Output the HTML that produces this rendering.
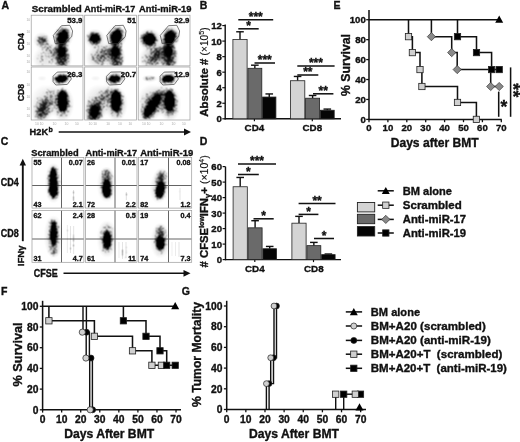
<!DOCTYPE html><html><head><meta charset="utf-8"><style>html,body{margin:0;padding:0;background:#fff;}svg{display:block;will-change:transform;}text{font-family:"Liberation Sans",sans-serif;}</style></head><body>
<svg width="520" height="442" viewBox="0 0 520 442">
<defs>
<filter id="b1_2" x="-100%" y="-100%" width="300%" height="300%"><feGaussianBlur stdDeviation="1.2"/></filter><filter id="b1_3" x="-100%" y="-100%" width="300%" height="300%"><feGaussianBlur stdDeviation="1.3"/></filter><filter id="b1_5" x="-100%" y="-100%" width="300%" height="300%"><feGaussianBlur stdDeviation="1.5"/></filter><filter id="b1_6" x="-100%" y="-100%" width="300%" height="300%"><feGaussianBlur stdDeviation="1.6"/></filter><filter id="b2" x="-100%" y="-100%" width="300%" height="300%"><feGaussianBlur stdDeviation="2"/></filter><filter id="b2_5" x="-100%" y="-100%" width="300%" height="300%"><feGaussianBlur stdDeviation="2.5"/></filter><filter id="b3" x="-100%" y="-100%" width="300%" height="300%"><feGaussianBlur stdDeviation="3"/></filter>
</defs>
<rect width="520" height="442" fill="#fff"/>
<text x="1.60" y="8.90" font-size="10.5" text-anchor="start" font-weight="bold" fill="#111" stroke="#111" stroke-width="0.35" >A</text>
<text x="31.80" y="12.30" font-size="9.9" text-anchor="start" font-weight="bold" fill="#111" stroke="#111" stroke-width="0.35" textLength="50" lengthAdjust="spacingAndGlyphs" >Scrambled</text>
<text x="84.30" y="12.30" font-size="9.9" text-anchor="start" font-weight="bold" fill="#111" stroke="#111" stroke-width="0.35" textLength="50.9" lengthAdjust="spacingAndGlyphs" >Anti-miR-17</text>
<text x="139.00" y="12.30" font-size="9.9" text-anchor="start" font-weight="bold" fill="#111" stroke="#111" stroke-width="0.35" textLength="52.5" lengthAdjust="spacingAndGlyphs" >Anti-miR-19</text>
<defs><filter id="spk" filterUnits="userSpaceOnUse" x="0" y="0" width="520" height="442" color-interpolation-filters="sRGB"><feTurbulence type="fractalNoise" baseFrequency="2.2" numOctaves="1" seed="3" result="n"/><feColorMatrix in="n" type="matrix" values="0 0 0 0 0 0 0 0 0 0 0 0 0 0 0 1 0 0 0 0" result="na"/><feComponentTransfer in="na" result="nu"><feFuncA type="table" tableValues="0.080 0.080 0.080 0.080 0.080 0.080 0.080 0.080 0.080 0.081 0.083 0.090 0.103 0.123 0.154 0.187 0.235 0.282 0.345 0.429 0.493 0.575 0.660 0.720 0.773 0.812 0.844 0.874 0.894 0.908 0.916 0.918 0.920 0.920 0.920 0.920 0.920 0.920 0.920 0.920 0.920"/></feComponentTransfer><feComponentTransfer in="SourceAlpha" result="sa"><feFuncA type="linear" slope="1.3" intercept="-0.04"/></feComponentTransfer><feComposite in="sa" in2="nu" operator="arithmetic" k1="0" k2="12.5" k3="12.5" k4="-12.5" result="sp"/><feConvolveMatrix in="sp" order="3" kernelMatrix="1 2 1 2 4 2 1 2 1" divisor="16" edgeMode="none" result="spb"/><feComposite in="sa" in2="spb" operator="arithmetic" k1="0" k2="0.45" k3="0.55" k4="0" result="mx"/><feFlood flood-color="#000"/><feComposite in2="mx" operator="in"/></filter></defs>
<defs>
<clipPath id="cA00"><rect x="31.2" y="15.2" width="51.8" height="50.7"/></clipPath>
<clipPath id="cA01"><rect x="31.2" y="67.0" width="51.8" height="53.0"/></clipPath>
<clipPath id="cA10"><rect x="84.7" y="15.2" width="51.89999999999999" height="50.7"/></clipPath>
<clipPath id="cA11"><rect x="84.7" y="67.0" width="51.89999999999999" height="53.0"/></clipPath>
<clipPath id="cA20"><rect x="138.2" y="15.2" width="51.80000000000001" height="50.7"/></clipPath>
<clipPath id="cA21"><rect x="138.2" y="67.0" width="51.80000000000001" height="53.0"/></clipPath>
</defs>
<g clip-path="url(#cA00)"><g filter="url(#spk)">
<ellipse cx="47.00" cy="57.00" rx="13" ry="10" fill="#000" opacity="0.2" filter="url(#b3)" transform="rotate(-30 47.00 57.00)"/>
<ellipse cx="51.00" cy="50.00" rx="8" ry="3.5" fill="#000" opacity="0.25" filter="url(#b2_5)" transform="rotate(40 51.00 50.00)"/>
<ellipse cx="62.30" cy="58.00" rx="6.2" ry="10" fill="#000" opacity="0.7" filter="url(#b2_5)"/>
<ellipse cx="61.80" cy="50.00" rx="4.8" ry="6" fill="#000" opacity="0.9" filter="url(#b2)"/>
<ellipse cx="42.00" cy="40.50" rx="6.5" ry="6" fill="#000" opacity="0.35" filter="url(#b2_5)"/>
<ellipse cx="42.00" cy="40.50" rx="3.5" ry="3" fill="#000" opacity="0.5" filter="url(#b1_5)"/>
<ellipse cx="62.80" cy="37.00" rx="7.5" ry="9.5" fill="#000" opacity="0.45" filter="url(#b2_5)" transform="rotate(20 62.80 37.00)"/>
<ellipse cx="62.80" cy="37.00" rx="5" ry="7.5" fill="#000" opacity="1.0" filter="url(#b1_5)" transform="rotate(20 62.80 37.00)"/>
</g>
<polyline points="53.30,35.40 61.50,25.70 69.80,25.30 72.60,31.00 71.70,36.70 64.70,43.60 55.20,43.60 53.30,35.40" fill="none" stroke="#333" stroke-width="0.649" stroke-linejoin="miter"/>
</g>
<rect x="31.20" y="15.20" width="51.80" height="50.70" fill="none" stroke="#9a9a9a" stroke-width="0.7"/>
<g clip-path="url(#cA01)"><g filter="url(#spk)">
<ellipse cx="46.00" cy="100.00" rx="14" ry="14" fill="#000" opacity="0.12" filter="url(#b3)" transform="rotate(30 46.00 100.00)"/>
<ellipse cx="43.00" cy="109.00" rx="7.5" ry="12.5" fill="#000" opacity="0.33" filter="url(#b3)" transform="rotate(25 43.00 109.00)"/>
<ellipse cx="43.00" cy="110.00" rx="4.8" ry="9.5" fill="#000" opacity="0.45" filter="url(#b2)" transform="rotate(25 43.00 110.00)"/>
<ellipse cx="51.00" cy="96.00" rx="3.5" ry="8" fill="#000" opacity="0.28" filter="url(#b3)" transform="rotate(40 51.00 96.00)"/>
<ellipse cx="62.80" cy="104.00" rx="7.5" ry="14" fill="#000" opacity="0.42" filter="url(#b3)"/>
<ellipse cx="62.60" cy="101.00" rx="5" ry="11" fill="#000" opacity="1.0" filter="url(#b1_5)"/>
<ellipse cx="61.20" cy="78.80" rx="8.5" ry="5" fill="#000" opacity="0.4" filter="url(#b2_5)" transform="rotate(-8 61.20 78.80)"/>
<ellipse cx="61.20" cy="78.80" rx="6" ry="3.3" fill="#000" opacity="1.0" filter="url(#b1_3)" transform="rotate(-8 61.20 78.80)"/>
<ellipse cx="42.00" cy="78.20" rx="4.5" ry="1.8" fill="#000" opacity="0.15" filter="url(#b1_5)"/>
</g>
<polyline points="53.10,76.20 57.20,72.10 68.00,71.90 71.40,78.90 67.30,84.40 55.80,85.00 53.10,81.60 53.10,76.20" fill="none" stroke="#333" stroke-width="0.649" stroke-linejoin="miter"/>
</g>
<rect x="31.20" y="67.00" width="51.80" height="53.00" fill="none" stroke="#9a9a9a" stroke-width="0.7"/>
<g clip-path="url(#cA10)"><g filter="url(#spk)">
<ellipse cx="100.50" cy="56.00" rx="13" ry="10" fill="#000" opacity="0.26" filter="url(#b3)" transform="rotate(-30 100.50 56.00)"/>
<ellipse cx="103.50" cy="55.00" rx="10" ry="4" fill="#000" opacity="0.4" filter="url(#b2_5)" transform="rotate(-50 103.50 55.00)"/>
<ellipse cx="115.80" cy="58.00" rx="6.2" ry="10" fill="#000" opacity="0.7" filter="url(#b2_5)"/>
<ellipse cx="115.30" cy="50.00" rx="4.8" ry="6" fill="#000" opacity="0.9" filter="url(#b2)"/>
<ellipse cx="94.80" cy="38.60" rx="7.5" ry="7" fill="#000" opacity="0.45" filter="url(#b2_5)"/>
<ellipse cx="94.80" cy="38.60" rx="5" ry="4.6" fill="#000" opacity="1.0" filter="url(#b1_5)"/>
<ellipse cx="116.30" cy="37.00" rx="7.5" ry="9.5" fill="#000" opacity="0.45" filter="url(#b2_5)" transform="rotate(20 116.30 37.00)"/>
<ellipse cx="116.30" cy="37.00" rx="5" ry="7.5" fill="#000" opacity="1.0" filter="url(#b1_5)" transform="rotate(20 116.30 37.00)"/>
</g>
<polyline points="106.80,35.40 115.00,25.70 123.30,25.30 126.10,31.00 125.20,36.70 118.20,43.60 108.70,43.60 106.80,35.40" fill="none" stroke="#333" stroke-width="0.649" stroke-linejoin="miter"/>
</g>
<rect x="84.70" y="15.20" width="51.90" height="50.70" fill="none" stroke="#9a9a9a" stroke-width="0.7"/>
<g clip-path="url(#cA11)"><g filter="url(#spk)">
<ellipse cx="99.50" cy="100.00" rx="14" ry="14" fill="#000" opacity="0.14" filter="url(#b3)" transform="rotate(30 99.50 100.00)"/>
<ellipse cx="105.50" cy="96.00" rx="4" ry="10" fill="#000" opacity="0.45" filter="url(#b3)" transform="rotate(55 105.50 96.00)"/>
<ellipse cx="94.70" cy="111.00" rx="7.5" ry="11.5" fill="#000" opacity="0.55" filter="url(#b2_5)" transform="rotate(10 94.70 111.00)"/>
<ellipse cx="94.70" cy="112.00" rx="4" ry="7" fill="#000" opacity="1.0" filter="url(#b2)" transform="rotate(10 94.70 112.00)"/>
<ellipse cx="116.30" cy="104.00" rx="7.5" ry="14" fill="#000" opacity="0.42" filter="url(#b3)"/>
<ellipse cx="116.10" cy="101.00" rx="5" ry="11" fill="#000" opacity="1.0" filter="url(#b1_5)"/>
<ellipse cx="114.70" cy="78.80" rx="8.5" ry="5" fill="#000" opacity="0.4" filter="url(#b2_5)" transform="rotate(-8 114.70 78.80)"/>
<ellipse cx="114.70" cy="78.80" rx="6" ry="3.3" fill="#000" opacity="1.0" filter="url(#b1_3)" transform="rotate(-8 114.70 78.80)"/>
<ellipse cx="95.50" cy="78.20" rx="4.5" ry="1.8" fill="#000" opacity="0.15" filter="url(#b1_5)"/>
</g>
<polyline points="106.60,76.20 110.70,72.10 121.50,71.90 124.90,78.90 120.80,84.40 109.30,85.00 106.60,81.60 106.60,76.20" fill="none" stroke="#333" stroke-width="0.649" stroke-linejoin="miter"/>
</g>
<rect x="84.70" y="67.00" width="51.90" height="53.00" fill="none" stroke="#9a9a9a" stroke-width="0.7"/>
<g clip-path="url(#cA20)"><g filter="url(#spk)">
<ellipse cx="154.00" cy="57.00" rx="13" ry="10" fill="#000" opacity="0.3" filter="url(#b3)" transform="rotate(-30 154.00 57.00)"/>
<ellipse cx="157.00" cy="55.00" rx="11" ry="4.5" fill="#000" opacity="0.55" filter="url(#b2_5)" transform="rotate(-50 157.00 55.00)"/>
<ellipse cx="169.30" cy="58.00" rx="6.2" ry="10" fill="#000" opacity="0.7" filter="url(#b2_5)"/>
<ellipse cx="168.80" cy="50.00" rx="4.8" ry="6" fill="#000" opacity="0.9" filter="url(#b2)"/>
<ellipse cx="149.30" cy="39.20" rx="8.5" ry="8" fill="#000" opacity="0.5" filter="url(#b2_5)"/>
<ellipse cx="149.30" cy="39.20" rx="6.2" ry="5.6" fill="#000" opacity="1.0" filter="url(#b1_5)"/>
<ellipse cx="169.80" cy="37.50" rx="7.5" ry="9.5" fill="#000" opacity="0.45" filter="url(#b2_5)" transform="rotate(20 169.80 37.50)"/>
<ellipse cx="169.80" cy="37.50" rx="5" ry="7.5" fill="#000" opacity="1.0" filter="url(#b1_5)" transform="rotate(20 169.80 37.50)"/>
</g>
<polyline points="160.30,35.40 168.50,25.70 176.80,25.30 179.60,31.00 178.70,36.70 171.70,43.60 162.20,43.60 160.30,35.40" fill="none" stroke="#333" stroke-width="0.649" stroke-linejoin="miter"/>
</g>
<rect x="138.20" y="15.20" width="51.80" height="50.70" fill="none" stroke="#9a9a9a" stroke-width="0.7"/>
<g clip-path="url(#cA21)"><g filter="url(#spk)">
<ellipse cx="153.00" cy="100.00" rx="14" ry="14" fill="#000" opacity="0.16" filter="url(#b3)" transform="rotate(30 153.00 100.00)"/>
<ellipse cx="151.80" cy="106.00" rx="7.5" ry="15.5" fill="#000" opacity="0.45" filter="url(#b3)" transform="rotate(33 151.80 106.00)"/>
<ellipse cx="151.80" cy="106.50" rx="4.6" ry="13.5" fill="#000" opacity="1.0" filter="url(#b1_6)" transform="rotate(33 151.80 106.50)"/>
<ellipse cx="161.00" cy="95.00" rx="4" ry="7" fill="#000" opacity="0.5" filter="url(#b2_5)" transform="rotate(45 161.00 95.00)"/>
<ellipse cx="169.80" cy="104.00" rx="7.5" ry="14" fill="#000" opacity="0.42" filter="url(#b3)"/>
<ellipse cx="169.60" cy="101.00" rx="5" ry="11" fill="#000" opacity="1.0" filter="url(#b1_5)"/>
<ellipse cx="168.20" cy="78.80" rx="8.5" ry="5" fill="#000" opacity="0.4" filter="url(#b2_5)" transform="rotate(-8 168.20 78.80)"/>
<ellipse cx="168.20" cy="78.80" rx="6" ry="3.3" fill="#000" opacity="1.0" filter="url(#b1_3)" transform="rotate(-8 168.20 78.80)"/>
<ellipse cx="149.50" cy="78.40" rx="6.5" ry="2.0" fill="#000" opacity="0.38" filter="url(#b1_5)"/>
</g>
<polyline points="160.10,76.20 164.20,72.10 175.00,71.90 178.40,78.90 174.30,84.40 162.80,85.00 160.10,81.60 160.10,76.20" fill="none" stroke="#333" stroke-width="0.649" stroke-linejoin="miter"/>
</g>
<rect x="138.20" y="67.00" width="51.80" height="53.00" fill="none" stroke="#9a9a9a" stroke-width="0.7"/>
<text x="82.40" y="22.50" font-size="7.8" text-anchor="end" font-weight="bold" fill="#111" stroke="#111" stroke-width="0.35" >53.9</text>
<text x="82.40" y="76.60" font-size="7.8" text-anchor="end" font-weight="bold" fill="#111" stroke="#111" stroke-width="0.35" >26.3</text>
<text x="136.00" y="22.50" font-size="7.8" text-anchor="end" font-weight="bold" fill="#111" stroke="#111" stroke-width="0.35" >51</text>
<text x="136.00" y="76.60" font-size="7.8" text-anchor="end" font-weight="bold" fill="#111" stroke="#111" stroke-width="0.35" >20.7</text>
<text x="189.40" y="22.50" font-size="7.8" text-anchor="end" font-weight="bold" fill="#111" stroke="#111" stroke-width="0.35" >32.9</text>
<text x="189.40" y="76.60" font-size="7.8" text-anchor="end" font-weight="bold" fill="#111" stroke="#111" stroke-width="0.35" >12.9</text>
<text x="24.30" y="50.50" font-size="9.0" text-anchor="start" font-weight="bold" fill="#111" stroke="#111" stroke-width="0.35" textLength="17.3" lengthAdjust="spacingAndGlyphs" transform="rotate(-90 24.3 50.5)">CD4</text>
<text x="24.30" y="101.30" font-size="9.0" text-anchor="start" font-weight="bold" fill="#111" stroke="#111" stroke-width="0.35" textLength="17.3" lengthAdjust="spacingAndGlyphs" transform="rotate(-90 24.3 101.3)">CD8</text>
<text x="29.60" y="134.60" font-size="9.6" text-anchor="start" font-weight="bold" fill="#111" stroke="#111" stroke-width="0.35" textLength="18.5" lengthAdjust="spacingAndGlyphs" >H2K</text>
<text x="48.60" y="131.60" font-size="7" text-anchor="start" font-weight="bold" fill="#111" stroke="#111" stroke-width="0.35" >b</text>
<text x="36.90" y="124.8" font-size="3.4" font-weight="normal" fill="#aaa" text-anchor="middle">10</text>
<text x="41.56" y="124.8" font-size="3.4" font-weight="normal" fill="#aaa" text-anchor="middle">10</text>
<text x="54.51" y="124.8" font-size="3.4" font-weight="normal" fill="#aaa" text-anchor="middle">10</text>
<text x="66.42" y="124.8" font-size="3.4" font-weight="normal" fill="#aaa" text-anchor="middle">10</text>
<text x="76.78" y="124.8" font-size="3.4" font-weight="normal" fill="#aaa" text-anchor="middle">10</text>
<text x="90.41" y="124.8" font-size="3.4" font-weight="normal" fill="#aaa" text-anchor="middle">10</text>
<text x="95.08" y="124.8" font-size="3.4" font-weight="normal" fill="#aaa" text-anchor="middle">10</text>
<text x="108.06" y="124.8" font-size="3.4" font-weight="normal" fill="#aaa" text-anchor="middle">10</text>
<text x="119.99" y="124.8" font-size="3.4" font-weight="normal" fill="#aaa" text-anchor="middle">10</text>
<text x="130.37" y="124.8" font-size="3.4" font-weight="normal" fill="#aaa" text-anchor="middle">10</text>
<text x="143.90" y="124.8" font-size="3.4" font-weight="normal" fill="#aaa" text-anchor="middle">10</text>
<text x="148.56" y="124.8" font-size="3.4" font-weight="normal" fill="#aaa" text-anchor="middle">10</text>
<text x="161.51" y="124.8" font-size="3.4" font-weight="normal" fill="#aaa" text-anchor="middle">10</text>
<text x="173.42" y="124.8" font-size="3.4" font-weight="normal" fill="#aaa" text-anchor="middle">10</text>
<text x="183.78" y="124.8" font-size="3.4" font-weight="normal" fill="#aaa" text-anchor="middle">10</text>
<text x="28.3" y="21.28" font-size="3.4" font-weight="normal" fill="#aaa" text-anchor="middle">10</text>
<text x="28.3" y="32.95" font-size="3.4" font-weight="normal" fill="#aaa" text-anchor="middle">10</text>
<text x="28.3" y="44.61" font-size="3.4" font-weight="normal" fill="#aaa" text-anchor="middle">10</text>
<text x="28.3" y="56.77" font-size="3.4" font-weight="normal" fill="#aaa" text-anchor="middle">10</text>
<text x="28.3" y="63.36" font-size="3.4" font-weight="normal" fill="#aaa" text-anchor="middle">10</text>
<text x="28.3" y="73.36" font-size="3.4" font-weight="normal" fill="#aaa" text-anchor="middle">10</text>
<text x="28.3" y="85.55" font-size="3.4" font-weight="normal" fill="#aaa" text-anchor="middle">10</text>
<text x="28.3" y="97.74" font-size="3.4" font-weight="normal" fill="#aaa" text-anchor="middle">10</text>
<text x="28.3" y="110.46" font-size="3.4" font-weight="normal" fill="#aaa" text-anchor="middle">10</text>
<text x="28.3" y="117.35" font-size="3.4" font-weight="normal" fill="#aaa" text-anchor="middle">10</text>
<line x1="58.70" y1="132.00" x2="187.00" y2="132.00" stroke="#111" stroke-width="1.534"/>
<polygon points="191,132 184,128.6 184,135.4" fill="#111"/>
<text x="199.80" y="9.30" font-size="10.5" text-anchor="start" font-weight="bold" fill="#111" stroke="#111" stroke-width="0.35" >B</text>
<line x1="225.20" y1="24.50" x2="225.20" y2="119.40" stroke="#111" stroke-width="1.416"/>
<line x1="224.60" y1="118.80" x2="341.00" y2="118.80" stroke="#111" stroke-width="1.416"/>
<line x1="222.30" y1="118.80" x2="225.20" y2="118.80" stroke="#111" stroke-width="1.18"/>
<text x="221.80" y="122.20" font-size="9.6" text-anchor="end" font-weight="bold" fill="#111" stroke="#111" stroke-width="0.35" >0</text>
<line x1="222.30" y1="103.26" x2="225.20" y2="103.26" stroke="#111" stroke-width="1.18"/>
<text x="221.80" y="106.66" font-size="9.6" text-anchor="end" font-weight="bold" fill="#111" stroke="#111" stroke-width="0.35" >2</text>
<line x1="222.30" y1="87.72" x2="225.20" y2="87.72" stroke="#111" stroke-width="1.18"/>
<text x="221.80" y="91.12" font-size="9.6" text-anchor="end" font-weight="bold" fill="#111" stroke="#111" stroke-width="0.35" >4</text>
<line x1="222.30" y1="72.18" x2="225.20" y2="72.18" stroke="#111" stroke-width="1.18"/>
<text x="221.80" y="75.58" font-size="9.6" text-anchor="end" font-weight="bold" fill="#111" stroke="#111" stroke-width="0.35" >6</text>
<line x1="222.30" y1="56.64" x2="225.20" y2="56.64" stroke="#111" stroke-width="1.18"/>
<text x="221.80" y="60.04" font-size="9.6" text-anchor="end" font-weight="bold" fill="#111" stroke="#111" stroke-width="0.35" >8</text>
<line x1="222.30" y1="41.10" x2="225.20" y2="41.10" stroke="#111" stroke-width="1.18"/>
<text x="221.80" y="44.50" font-size="9.6" text-anchor="end" font-weight="bold" fill="#111" stroke="#111" stroke-width="0.35" >10</text>
<line x1="222.30" y1="25.56" x2="225.20" y2="25.56" stroke="#111" stroke-width="1.18"/>
<text x="221.80" y="28.96" font-size="9.6" text-anchor="end" font-weight="bold" fill="#111" stroke="#111" stroke-width="0.35" >12</text>
<line x1="254.40" y1="118.80" x2="254.40" y2="121.30" stroke="#111" stroke-width="1.18"/>
<line x1="312.30" y1="118.80" x2="312.30" y2="121.30" stroke="#111" stroke-width="1.18"/>
<text x="254.40" y="131.40" font-size="9.8" text-anchor="middle" font-weight="bold" fill="#111" stroke="#111" stroke-width="0.35" >CD4</text>
<text x="312.30" y="131.40" font-size="9.8" text-anchor="middle" font-weight="bold" fill="#111" stroke="#111" stroke-width="0.35" >CD8</text>
<line x1="240.00" y1="31.78" x2="240.00" y2="39.55" stroke="#111" stroke-width="1.416"/>
<line x1="236.20" y1="31.78" x2="243.80" y2="31.78" stroke="#111" stroke-width="1.416"/>
<rect x="232.90" y="39.55" width="14.20" height="79.25" fill="#d4d4d4" stroke="#222" stroke-width="0.8"/>
<line x1="254.85" y1="65.19" x2="254.85" y2="68.30" stroke="#111" stroke-width="1.416"/>
<line x1="251.05" y1="65.19" x2="258.65" y2="65.19" stroke="#111" stroke-width="1.416"/>
<rect x="247.90" y="68.30" width="13.90" height="50.50" fill="#6a6a6a" stroke="#222" stroke-width="0.8"/>
<line x1="269.25" y1="93.94" x2="269.25" y2="97.04" stroke="#111" stroke-width="1.416"/>
<line x1="265.45" y1="93.94" x2="273.05" y2="93.94" stroke="#111" stroke-width="1.416"/>
<rect x="262.60" y="97.04" width="13.30" height="21.76" fill="#050505" stroke="#222" stroke-width="0.8"/>
<line x1="297.60" y1="76.45" x2="297.60" y2="80.73" stroke="#111" stroke-width="1.416"/>
<line x1="293.80" y1="76.45" x2="301.40" y2="76.45" stroke="#111" stroke-width="1.416"/>
<rect x="290.40" y="80.73" width="14.40" height="38.07" fill="#d4d4d4" stroke="#222" stroke-width="0.8"/>
<line x1="312.60" y1="95.49" x2="312.60" y2="98.21" stroke="#111" stroke-width="1.416"/>
<line x1="308.80" y1="95.49" x2="316.40" y2="95.49" stroke="#111" stroke-width="1.416"/>
<rect x="305.60" y="98.21" width="14.00" height="20.59" fill="#6a6a6a" stroke="#222" stroke-width="0.8"/>
<line x1="327.30" y1="109.09" x2="327.30" y2="110.25" stroke="#111" stroke-width="1.416"/>
<line x1="323.50" y1="109.09" x2="331.10" y2="109.09" stroke="#111" stroke-width="1.416"/>
<rect x="320.40" y="110.25" width="13.80" height="8.55" fill="#050505" stroke="#222" stroke-width="0.8"/>
<line x1="238.30" y1="19.70" x2="273.20" y2="19.70" stroke="#111" stroke-width="1.534"/>
<text x="255.75" y="21.10" font-size="12" text-anchor="middle" font-weight="bold" fill="#111" stroke="#111" stroke-width="0.35" >***</text>
<line x1="238.30" y1="28.80" x2="258.70" y2="28.80" stroke="#111" stroke-width="1.534"/>
<text x="248.50" y="30.20" font-size="12" text-anchor="middle" font-weight="bold" fill="#111" stroke="#111" stroke-width="0.35" >*</text>
<line x1="254.50" y1="63.00" x2="275.00" y2="63.00" stroke="#111" stroke-width="1.534"/>
<text x="264.75" y="64.40" font-size="12" text-anchor="middle" font-weight="bold" fill="#111" stroke="#111" stroke-width="0.35" >***</text>
<line x1="297.30" y1="66.00" x2="334.60" y2="66.00" stroke="#111" stroke-width="1.534"/>
<text x="315.95" y="67.40" font-size="12" text-anchor="middle" font-weight="bold" fill="#111" stroke="#111" stroke-width="0.35" >***</text>
<line x1="297.30" y1="75.00" x2="318.30" y2="75.00" stroke="#111" stroke-width="1.534"/>
<text x="307.80" y="76.40" font-size="12" text-anchor="middle" font-weight="bold" fill="#111" stroke="#111" stroke-width="0.35" >**</text>
<line x1="313.00" y1="93.80" x2="333.40" y2="93.80" stroke="#111" stroke-width="1.534"/>
<text x="323.20" y="95.20" font-size="12" text-anchor="middle" font-weight="bold" fill="#111" stroke="#111" stroke-width="0.35" >**</text>
<g transform="translate(208.4 116.8) rotate(-90)">
<text x="0" y="0" font-size="11.4" font-weight="bold" fill="#111" stroke="#111" stroke-width="0.35">Absolute # <tspan font-weight="normal" font-size="10.2" stroke-width="0.15">(×10</tspan><tspan font-weight="normal" font-size="7" dy="-4" stroke-width="0.15">5</tspan><tspan font-weight="normal" font-size="10.2" dy="4" stroke-width="0.15">)</tspan></text>
</g>
<text x="0.80" y="144.60" font-size="10.5" text-anchor="start" font-weight="bold" fill="#111" stroke="#111" stroke-width="0.35" >C</text>
<text x="31.20" y="155.60" font-size="9.9" text-anchor="start" font-weight="bold" fill="#111" stroke="#111" stroke-width="0.35" textLength="47.5" lengthAdjust="spacingAndGlyphs" >Scrambled</text>
<text x="85.50" y="155.60" font-size="9.9" text-anchor="start" font-weight="bold" fill="#111" stroke="#111" stroke-width="0.35" textLength="51.5" lengthAdjust="spacingAndGlyphs" >Anti-miR-17</text>
<text x="140.20" y="155.60" font-size="9.9" text-anchor="start" font-weight="bold" fill="#111" stroke="#111" stroke-width="0.35" textLength="53" lengthAdjust="spacingAndGlyphs" >Anti-miR-19</text>
<defs>
<clipPath id="cC00"><rect x="32.0" y="157.5" width="51.900000000000006" height="50.599999999999994"/></clipPath>
<clipPath id="cC01"><rect x="32.0" y="210.5" width="51.900000000000006" height="51.80000000000001"/></clipPath>
<clipPath id="cC10"><rect x="85.5" y="157.5" width="51.5" height="50.599999999999994"/></clipPath>
<clipPath id="cC11"><rect x="85.5" y="210.5" width="51.5" height="51.80000000000001"/></clipPath>
<clipPath id="cC20"><rect x="138.6" y="157.5" width="53.099999999999994" height="50.599999999999994"/></clipPath>
<clipPath id="cC21"><rect x="138.6" y="210.5" width="53.099999999999994" height="51.80000000000001"/></clipPath>
</defs>
<line x1="61.50" y1="157.50" x2="61.50" y2="208.10" stroke="#5a5a5a" stroke-width="0.944"/>
<line x1="32.00" y1="185.50" x2="83.90" y2="185.50" stroke="#5a5a5a" stroke-width="0.944"/>
<g clip-path="url(#cC00)"><g filter="url(#spk)">
<ellipse cx="53.50" cy="183.00" rx="6" ry="18" fill="#000" opacity="0.35" filter="url(#b2_5)"/>
<ellipse cx="53.30" cy="181.00" rx="3.6" ry="13.5" fill="#000" opacity="1.0" filter="url(#b1_2)"/>
<ellipse cx="53.50" cy="191.00" rx="4.2" ry="6.5" fill="#000" opacity="1.0" filter="url(#b1_2)"/>
<rect x="73.00" y="190" width="1.2" height="11" fill="#000" opacity="0.24"/>
</g>
</g>
<rect x="32.00" y="157.50" width="51.90" height="50.60" fill="none" stroke="#9a9a9a" stroke-width="0.7"/>
<line x1="61.50" y1="210.50" x2="61.50" y2="262.30" stroke="#5a5a5a" stroke-width="0.944"/>
<line x1="32.00" y1="239.00" x2="83.90" y2="239.00" stroke="#5a5a5a" stroke-width="0.944"/>
<g clip-path="url(#cC01)"><g filter="url(#spk)">
<ellipse cx="53.50" cy="236.00" rx="6" ry="18" fill="#000" opacity="0.35" filter="url(#b3)"/>
<ellipse cx="53.70" cy="233.00" rx="3.6" ry="12.5" fill="#000" opacity="0.9" filter="url(#b1_2)"/>
<ellipse cx="54.00" cy="250.00" rx="3" ry="6" fill="#000" opacity="0.35" filter="url(#b2)"/>
<rect x="66.70" y="225" width="1.2" height="28" fill="#000" opacity="0.17"/>
<rect x="69.90" y="226" width="1.2" height="27" fill="#000" opacity="0.21"/>
<rect x="73.10" y="226" width="1.2" height="28" fill="#000" opacity="0.21"/>
</g>
</g>
<rect x="32.00" y="210.50" width="51.90" height="51.80" fill="none" stroke="#9a9a9a" stroke-width="0.7"/>
<line x1="115.00" y1="157.50" x2="115.00" y2="208.10" stroke="#5a5a5a" stroke-width="0.944"/>
<line x1="85.50" y1="185.50" x2="137.00" y2="185.50" stroke="#5a5a5a" stroke-width="0.944"/>
<g clip-path="url(#cC10)"><g filter="url(#spk)">
<ellipse cx="106.70" cy="185.00" rx="6.5" ry="15" fill="#000" opacity="0.3" filter="url(#b3)"/>
<ellipse cx="106.50" cy="175.50" rx="2.8" ry="6" fill="#000" opacity="0.6" filter="url(#b2)"/>
<ellipse cx="106.70" cy="188.50" rx="4.3" ry="9.5" fill="#000" opacity="1.0" filter="url(#b1_2)"/>
<rect x="125.70" y="192" width="1.2" height="8" fill="#000" opacity="0.24"/>
</g>
</g>
<rect x="85.50" y="157.50" width="51.50" height="50.60" fill="none" stroke="#9a9a9a" stroke-width="0.7"/>
<line x1="115.00" y1="210.50" x2="115.00" y2="262.30" stroke="#5a5a5a" stroke-width="0.944"/>
<line x1="85.50" y1="239.00" x2="137.00" y2="239.00" stroke="#5a5a5a" stroke-width="0.944"/>
<g clip-path="url(#cC11)"><g filter="url(#spk)">
<ellipse cx="107.00" cy="239.00" rx="6.5" ry="16" fill="#000" opacity="0.35" filter="url(#b3)"/>
<ellipse cx="107.00" cy="240.00" rx="4" ry="9.5" fill="#000" opacity="0.95" filter="url(#b1_2)"/>
<rect x="118.40" y="242" width="1.2" height="16" fill="#000" opacity="0.17"/>
<rect x="121.90" y="242" width="1.2" height="17" fill="#000" opacity="0.21"/>
<rect x="125.40" y="242" width="1.2" height="16" fill="#000" opacity="0.21"/>
</g>
</g>
<rect x="85.50" y="210.50" width="51.50" height="51.80" fill="none" stroke="#9a9a9a" stroke-width="0.7"/>
<line x1="168.50" y1="157.50" x2="168.50" y2="208.10" stroke="#5a5a5a" stroke-width="0.944"/>
<line x1="138.60" y1="185.50" x2="191.70" y2="185.50" stroke="#5a5a5a" stroke-width="0.944"/>
<g clip-path="url(#cC20)"><g filter="url(#spk)">
<ellipse cx="160.00" cy="186.00" rx="6.5" ry="15" fill="#000" opacity="0.3" filter="url(#b3)" transform="rotate(8 160.00 186.00)"/>
<ellipse cx="161.00" cy="178.00" rx="3" ry="7" fill="#000" opacity="0.6" filter="url(#b2)" transform="rotate(8 161.00 178.00)"/>
<ellipse cx="160.00" cy="190.00" rx="4.4" ry="8.5" fill="#000" opacity="1.0" filter="url(#b1_2)" transform="rotate(8 160.00 190.00)"/>
<rect x="179.40" y="188" width="1.2" height="12" fill="#000" opacity="0.21"/>
</g>
</g>
<rect x="138.60" y="157.50" width="53.10" height="50.60" fill="none" stroke="#9a9a9a" stroke-width="0.7"/>
<line x1="168.50" y1="210.50" x2="168.50" y2="262.30" stroke="#5a5a5a" stroke-width="0.944"/>
<line x1="138.60" y1="239.00" x2="191.70" y2="239.00" stroke="#5a5a5a" stroke-width="0.944"/>
<g clip-path="url(#cC21)"><g filter="url(#spk)">
<ellipse cx="160.30" cy="241.00" rx="6.5" ry="15" fill="#000" opacity="0.3" filter="url(#b3)"/>
<ellipse cx="160.50" cy="233.00" rx="3" ry="7" fill="#000" opacity="0.5" filter="url(#b2)"/>
<ellipse cx="160.30" cy="243.00" rx="4.4" ry="7" fill="#000" opacity="1.0" filter="url(#b1_2)"/>
<rect x="171.40" y="242" width="1.2" height="14" fill="#000" opacity="0.14"/>
<rect x="174.90" y="242" width="1.2" height="14" fill="#000" opacity="0.17"/>
<rect x="178.40" y="242" width="1.2" height="15" fill="#000" opacity="0.21"/>
</g>
</g>
<rect x="138.60" y="210.50" width="53.10" height="51.80" fill="none" stroke="#9a9a9a" stroke-width="0.7"/>
<text x="33.60" y="164.70" font-size="7.2" text-anchor="start" font-weight="bold" fill="#111" stroke="#111" stroke-width="0.35" >55</text>
<text x="82.70" y="164.70" font-size="7.2" text-anchor="end" font-weight="bold" fill="#111" stroke="#111" stroke-width="0.35" >0.07</text>
<text x="33.60" y="206.70" font-size="7.2" text-anchor="start" font-weight="bold" fill="#111" stroke="#111" stroke-width="0.35" >43</text>
<text x="82.70" y="206.70" font-size="7.2" text-anchor="end" font-weight="bold" fill="#111" stroke="#111" stroke-width="0.35" >2.1</text>
<text x="87.10" y="164.70" font-size="7.2" text-anchor="start" font-weight="bold" fill="#111" stroke="#111" stroke-width="0.35" >26</text>
<text x="135.80" y="164.70" font-size="7.2" text-anchor="end" font-weight="bold" fill="#111" stroke="#111" stroke-width="0.35" >0.01</text>
<text x="87.10" y="206.70" font-size="7.2" text-anchor="start" font-weight="bold" fill="#111" stroke="#111" stroke-width="0.35" >72</text>
<text x="135.80" y="206.70" font-size="7.2" text-anchor="end" font-weight="bold" fill="#111" stroke="#111" stroke-width="0.35" >2.2</text>
<text x="140.20" y="164.70" font-size="7.2" text-anchor="start" font-weight="bold" fill="#111" stroke="#111" stroke-width="0.35" >17</text>
<text x="190.50" y="164.70" font-size="7.2" text-anchor="end" font-weight="bold" fill="#111" stroke="#111" stroke-width="0.35" >0.08</text>
<text x="140.20" y="206.70" font-size="7.2" text-anchor="start" font-weight="bold" fill="#111" stroke="#111" stroke-width="0.35" >82</text>
<text x="190.50" y="206.70" font-size="7.2" text-anchor="end" font-weight="bold" fill="#111" stroke="#111" stroke-width="0.35" >1.2</text>
<text x="33.60" y="217.70" font-size="7.2" text-anchor="start" font-weight="bold" fill="#111" stroke="#111" stroke-width="0.35" >62</text>
<text x="82.70" y="217.70" font-size="7.2" text-anchor="end" font-weight="bold" fill="#111" stroke="#111" stroke-width="0.35" >2.4</text>
<text x="33.60" y="260.90" font-size="7.2" text-anchor="start" font-weight="bold" fill="#111" stroke="#111" stroke-width="0.35" >31</text>
<text x="82.70" y="260.90" font-size="7.2" text-anchor="end" font-weight="bold" fill="#111" stroke="#111" stroke-width="0.35" >4.7</text>
<text x="87.10" y="217.70" font-size="7.2" text-anchor="start" font-weight="bold" fill="#111" stroke="#111" stroke-width="0.35" >28</text>
<text x="135.80" y="217.70" font-size="7.2" text-anchor="end" font-weight="bold" fill="#111" stroke="#111" stroke-width="0.35" >0.5</text>
<text x="87.10" y="260.90" font-size="7.2" text-anchor="start" font-weight="bold" fill="#111" stroke="#111" stroke-width="0.35" >61</text>
<text x="135.80" y="260.90" font-size="7.2" text-anchor="end" font-weight="bold" fill="#111" stroke="#111" stroke-width="0.35" >11</text>
<text x="140.20" y="217.70" font-size="7.2" text-anchor="start" font-weight="bold" fill="#111" stroke="#111" stroke-width="0.35" >19</text>
<text x="190.50" y="217.70" font-size="7.2" text-anchor="end" font-weight="bold" fill="#111" stroke="#111" stroke-width="0.35" >0.4</text>
<text x="140.20" y="260.90" font-size="7.2" text-anchor="start" font-weight="bold" fill="#111" stroke="#111" stroke-width="0.35" >74</text>
<text x="190.50" y="260.90" font-size="7.2" text-anchor="end" font-weight="bold" fill="#111" stroke="#111" stroke-width="0.35" >7.3</text>
<text x="0.80" y="185.60" font-size="10.2" text-anchor="start" font-weight="bold" fill="#111" stroke="#111" stroke-width="0.35" textLength="18" lengthAdjust="spacingAndGlyphs" >CD4</text>
<text x="0.80" y="237.20" font-size="10.2" text-anchor="start" font-weight="bold" fill="#111" stroke="#111" stroke-width="0.35" textLength="18" lengthAdjust="spacingAndGlyphs" >CD8</text>
<line x1="22.80" y1="163.00" x2="22.80" y2="241.20" stroke="#111" stroke-width="1.888"/>
<polygon points="22.8,158.8 19.6,165.5 26,165.5" fill="#111"/>
<g transform="translate(24.2 266.2) rotate(-90)"><text x="0" y="0" font-size="9.6" font-weight="bold" fill="#111" stroke="#111" stroke-width="0.35">IFNγ</text></g>
<text x="33.70" y="276.80" font-size="10.5" text-anchor="start" font-weight="bold" fill="#111" stroke="#111" stroke-width="0.35" textLength="24" lengthAdjust="spacingAndGlyphs" >CFSE</text>
<line x1="63.50" y1="273.30" x2="186.00" y2="273.30" stroke="#111" stroke-width="1.534"/>
<polygon points="190.5,273.3 183.5,269.9 183.5,276.7" fill="#111"/>
<text x="199.80" y="145.20" font-size="10.5" text-anchor="start" font-weight="bold" fill="#111" stroke="#111" stroke-width="0.35" >D</text>
<line x1="225.50" y1="166.70" x2="225.50" y2="260.20" stroke="#111" stroke-width="1.416"/>
<line x1="224.90" y1="259.60" x2="341.00" y2="259.60" stroke="#111" stroke-width="1.416"/>
<line x1="222.60" y1="259.60" x2="225.50" y2="259.60" stroke="#111" stroke-width="1.18"/>
<text x="222.00" y="263.00" font-size="9.6" text-anchor="end" font-weight="bold" fill="#111" stroke="#111" stroke-width="0.35" >0</text>
<line x1="222.60" y1="244.10" x2="225.50" y2="244.10" stroke="#111" stroke-width="1.18"/>
<text x="222.00" y="247.50" font-size="9.6" text-anchor="end" font-weight="bold" fill="#111" stroke="#111" stroke-width="0.35" >10</text>
<line x1="222.60" y1="228.60" x2="225.50" y2="228.60" stroke="#111" stroke-width="1.18"/>
<text x="222.00" y="232.00" font-size="9.6" text-anchor="end" font-weight="bold" fill="#111" stroke="#111" stroke-width="0.35" >20</text>
<line x1="222.60" y1="213.10" x2="225.50" y2="213.10" stroke="#111" stroke-width="1.18"/>
<text x="222.00" y="216.50" font-size="9.6" text-anchor="end" font-weight="bold" fill="#111" stroke="#111" stroke-width="0.35" >30</text>
<line x1="222.60" y1="197.60" x2="225.50" y2="197.60" stroke="#111" stroke-width="1.18"/>
<text x="222.00" y="201.00" font-size="9.6" text-anchor="end" font-weight="bold" fill="#111" stroke="#111" stroke-width="0.35" >40</text>
<line x1="222.60" y1="182.10" x2="225.50" y2="182.10" stroke="#111" stroke-width="1.18"/>
<text x="222.00" y="185.50" font-size="9.6" text-anchor="end" font-weight="bold" fill="#111" stroke="#111" stroke-width="0.35" >50</text>
<line x1="222.60" y1="166.60" x2="225.50" y2="166.60" stroke="#111" stroke-width="1.18"/>
<text x="222.00" y="170.00" font-size="9.6" text-anchor="end" font-weight="bold" fill="#111" stroke="#111" stroke-width="0.35" >60</text>
<line x1="254.80" y1="259.60" x2="254.80" y2="262.10" stroke="#111" stroke-width="1.18"/>
<line x1="313.50" y1="259.60" x2="313.50" y2="262.10" stroke="#111" stroke-width="1.18"/>
<text x="254.80" y="272.20" font-size="9.8" text-anchor="middle" font-weight="bold" fill="#111" stroke="#111" stroke-width="0.35" >CD4</text>
<text x="313.80" y="272.20" font-size="9.8" text-anchor="middle" font-weight="bold" fill="#111" stroke="#111" stroke-width="0.35" >CD8</text>
<line x1="240.20" y1="177.45" x2="240.20" y2="186.75" stroke="#111" stroke-width="1.416"/>
<line x1="236.40" y1="177.45" x2="244.00" y2="177.45" stroke="#111" stroke-width="1.416"/>
<rect x="233.10" y="186.75" width="14.20" height="72.85" fill="#d4d4d4" stroke="#222" stroke-width="0.8"/>
<line x1="255.10" y1="220.70" x2="255.10" y2="227.83" stroke="#111" stroke-width="1.416"/>
<line x1="251.30" y1="220.70" x2="258.90" y2="220.70" stroke="#111" stroke-width="1.416"/>
<rect x="248.10" y="227.83" width="14.00" height="31.78" fill="#6a6a6a" stroke="#222" stroke-width="0.8"/>
<line x1="269.70" y1="246.43" x2="269.70" y2="248.75" stroke="#111" stroke-width="1.416"/>
<line x1="265.90" y1="246.43" x2="273.50" y2="246.43" stroke="#111" stroke-width="1.416"/>
<rect x="262.90" y="248.75" width="13.60" height="10.85" fill="#050505" stroke="#222" stroke-width="0.8"/>
<line x1="299.00" y1="216.36" x2="299.00" y2="223.18" stroke="#111" stroke-width="1.416"/>
<line x1="295.20" y1="216.36" x2="302.80" y2="216.36" stroke="#111" stroke-width="1.416"/>
<rect x="291.90" y="223.18" width="14.20" height="36.43" fill="#d4d4d4" stroke="#222" stroke-width="0.8"/>
<line x1="313.85" y1="242.40" x2="313.85" y2="245.65" stroke="#111" stroke-width="1.416"/>
<line x1="310.05" y1="242.40" x2="317.65" y2="242.40" stroke="#111" stroke-width="1.416"/>
<rect x="306.90" y="245.65" width="13.90" height="13.95" fill="#6a6a6a" stroke="#222" stroke-width="0.8"/>
<line x1="328.35" y1="254.02" x2="328.35" y2="254.64" stroke="#111" stroke-width="1.416"/>
<line x1="324.55" y1="254.02" x2="332.15" y2="254.02" stroke="#111" stroke-width="1.416"/>
<rect x="321.60" y="254.64" width="13.50" height="4.96" fill="#050505" stroke="#222" stroke-width="0.8"/>
<line x1="238.00" y1="164.00" x2="276.00" y2="164.00" stroke="#111" stroke-width="1.534"/>
<text x="257.00" y="165.40" font-size="12" text-anchor="middle" font-weight="bold" fill="#111" stroke="#111" stroke-width="0.35" >***</text>
<line x1="238.00" y1="174.50" x2="258.80" y2="174.50" stroke="#111" stroke-width="1.534"/>
<text x="248.40" y="175.90" font-size="12" text-anchor="middle" font-weight="bold" fill="#111" stroke="#111" stroke-width="0.35" >*</text>
<line x1="253.50" y1="218.80" x2="273.70" y2="218.80" stroke="#111" stroke-width="1.534"/>
<text x="263.60" y="220.20" font-size="12" text-anchor="middle" font-weight="bold" fill="#111" stroke="#111" stroke-width="0.35" >*</text>
<line x1="298.60" y1="203.60" x2="335.50" y2="203.60" stroke="#111" stroke-width="1.534"/>
<text x="317.05" y="205.00" font-size="12" text-anchor="middle" font-weight="bold" fill="#111" stroke="#111" stroke-width="0.35" >**</text>
<line x1="298.60" y1="214.40" x2="318.40" y2="214.40" stroke="#111" stroke-width="1.534"/>
<text x="308.50" y="215.80" font-size="12" text-anchor="middle" font-weight="bold" fill="#111" stroke="#111" stroke-width="0.35" >*</text>
<line x1="314.00" y1="238.50" x2="334.00" y2="238.50" stroke="#111" stroke-width="1.534"/>
<text x="324.00" y="239.90" font-size="12" text-anchor="middle" font-weight="bold" fill="#111" stroke="#111" stroke-width="0.35" >*</text>
<g transform="translate(207.6 267.4) rotate(-90)">
<text x="0" y="0" font-size="11.3" font-weight="bold" fill="#111" stroke="#111" stroke-width="0.35"># CFSE<tspan font-size="7" dy="-4">low</tspan><tspan dy="4">IFN</tspan><tspan font-size="7.5" dy="2">γ</tspan><tspan dy="-2">+ </tspan><tspan font-weight="normal" font-size="10.5" stroke-width="0.15">(×10</tspan><tspan font-weight="normal" font-size="7" dy="-4" stroke-width="0.15">4</tspan><tspan font-weight="normal" font-size="10.5" dy="4" stroke-width="0.15">)</tspan></text>
</g>
<text x="333.60" y="8.90" font-size="10.5" text-anchor="start" font-weight="bold" fill="#111" stroke="#111" stroke-width="0.35" >E</text>
<line x1="369.00" y1="10.00" x2="369.00" y2="120.00" stroke="#111" stroke-width="1.534"/>
<line x1="368.40" y1="119.40" x2="501.80" y2="119.40" stroke="#111" stroke-width="1.534"/>
<line x1="366.20" y1="119.40" x2="369.00" y2="119.40" stroke="#111" stroke-width="1.298"/>
<text x="365.80" y="123.00" font-size="9.6" text-anchor="end" font-weight="bold" fill="#111" stroke="#111" stroke-width="0.35" >0</text>
<line x1="366.20" y1="99.46" x2="369.00" y2="99.46" stroke="#111" stroke-width="1.298"/>
<text x="365.80" y="103.06" font-size="9.6" text-anchor="end" font-weight="bold" fill="#111" stroke="#111" stroke-width="0.35" >20</text>
<line x1="366.20" y1="79.52" x2="369.00" y2="79.52" stroke="#111" stroke-width="1.298"/>
<text x="365.80" y="83.12" font-size="9.6" text-anchor="end" font-weight="bold" fill="#111" stroke="#111" stroke-width="0.35" >40</text>
<line x1="366.20" y1="59.58" x2="369.00" y2="59.58" stroke="#111" stroke-width="1.298"/>
<text x="365.80" y="63.18" font-size="9.6" text-anchor="end" font-weight="bold" fill="#111" stroke="#111" stroke-width="0.35" >60</text>
<line x1="366.20" y1="39.64" x2="369.00" y2="39.64" stroke="#111" stroke-width="1.298"/>
<text x="365.80" y="43.24" font-size="9.6" text-anchor="end" font-weight="bold" fill="#111" stroke="#111" stroke-width="0.35" >80</text>
<line x1="366.20" y1="19.70" x2="369.00" y2="19.70" stroke="#111" stroke-width="1.298"/>
<text x="365.80" y="23.30" font-size="9.6" text-anchor="end" font-weight="bold" fill="#111" stroke="#111" stroke-width="0.35" >100</text>
<line x1="369.00" y1="119.40" x2="369.00" y2="122.20" stroke="#111" stroke-width="1.298"/>
<text x="369.00" y="131.00" font-size="9.6" text-anchor="middle" font-weight="bold" fill="#111" stroke="#111" stroke-width="0.35" >0</text>
<line x1="387.90" y1="119.40" x2="387.90" y2="122.20" stroke="#111" stroke-width="1.298"/>
<text x="387.90" y="131.00" font-size="9.6" text-anchor="middle" font-weight="bold" fill="#111" stroke="#111" stroke-width="0.35" >10</text>
<line x1="406.80" y1="119.40" x2="406.80" y2="122.20" stroke="#111" stroke-width="1.298"/>
<text x="406.80" y="131.00" font-size="9.6" text-anchor="middle" font-weight="bold" fill="#111" stroke="#111" stroke-width="0.35" >20</text>
<line x1="425.70" y1="119.40" x2="425.70" y2="122.20" stroke="#111" stroke-width="1.298"/>
<text x="425.70" y="131.00" font-size="9.6" text-anchor="middle" font-weight="bold" fill="#111" stroke="#111" stroke-width="0.35" >30</text>
<line x1="444.60" y1="119.40" x2="444.60" y2="122.20" stroke="#111" stroke-width="1.298"/>
<text x="444.60" y="131.00" font-size="9.6" text-anchor="middle" font-weight="bold" fill="#111" stroke="#111" stroke-width="0.35" >40</text>
<line x1="463.50" y1="119.40" x2="463.50" y2="122.20" stroke="#111" stroke-width="1.298"/>
<text x="463.50" y="131.00" font-size="9.6" text-anchor="middle" font-weight="bold" fill="#111" stroke="#111" stroke-width="0.35" >50</text>
<line x1="482.40" y1="119.40" x2="482.40" y2="122.20" stroke="#111" stroke-width="1.298"/>
<text x="482.40" y="131.00" font-size="9.6" text-anchor="middle" font-weight="bold" fill="#111" stroke="#111" stroke-width="0.35" >60</text>
<line x1="501.30" y1="119.40" x2="501.30" y2="122.20" stroke="#111" stroke-width="1.298"/>
<text x="501.30" y="131.00" font-size="9.6" text-anchor="middle" font-weight="bold" fill="#111" stroke="#111" stroke-width="0.35" >70</text>
<text x="390.70" y="146.50" font-size="12" text-anchor="start" font-weight="bold" fill="#111" stroke="#111" stroke-width="0.35" textLength="88" lengthAdjust="spacingAndGlyphs" >Days after BMT</text>
<g transform="translate(350 96) rotate(-90)"><text x="0" y="0" font-size="12" font-weight="bold" fill="#111" stroke="#111" stroke-width="0.35" textLength="62" lengthAdjust="spacingAndGlyphs">% Survival</text></g>
<line x1="369.00" y1="19.70" x2="499.20" y2="19.70" stroke="#111" stroke-width="1.534"/>
<polyline points="408.50,19.70 408.50,36.65 412.40,36.65 412.40,52.60 420.00,52.60 420.00,69.55 421.90,69.55 421.90,86.50 457.50,86.50 457.50,102.45 476.40,102.45 476.40,119.40" fill="none" stroke="#111" stroke-width="1.534" stroke-linejoin="miter"/>
<polyline points="431.40,19.70 431.40,36.65 451.70,36.65 451.70,52.60 457.20,52.60 457.20,69.55 490.70,69.55 490.70,86.50 499.20,86.50" fill="none" stroke="#111" stroke-width="1.534" stroke-linejoin="miter"/>
<polyline points="457.50,19.70 457.50,36.65 476.50,36.65 476.50,52.60 491.60,52.60 491.60,69.55 499.20,69.55" fill="none" stroke="#111" stroke-width="1.534" stroke-linejoin="miter"/>
<rect x="405.35" y="33.50" width="6.30" height="6.30" fill="#d0d0d0" stroke="#222" stroke-width="0.8"/>
<rect x="409.25" y="49.45" width="6.30" height="6.30" fill="#d0d0d0" stroke="#222" stroke-width="0.8"/>
<rect x="416.85" y="66.40" width="6.30" height="6.30" fill="#d0d0d0" stroke="#222" stroke-width="0.8"/>
<rect x="418.75" y="83.35" width="6.30" height="6.30" fill="#d0d0d0" stroke="#222" stroke-width="0.8"/>
<rect x="454.35" y="99.30" width="6.30" height="6.30" fill="#d0d0d0" stroke="#222" stroke-width="0.8"/>
<rect x="473.25" y="116.25" width="6.30" height="6.30" fill="#d0d0d0" stroke="#222" stroke-width="0.8"/>
<polygon points="431.40,32.55 435.50,36.65 431.40,40.75 427.30,36.65" fill="#8a8a8a" stroke="#333" stroke-width="0.7"/>
<polygon points="451.70,48.50 455.80,52.60 451.70,56.70 447.60,52.60" fill="#8a8a8a" stroke="#333" stroke-width="0.7"/>
<polygon points="457.20,65.45 461.30,69.55 457.20,73.65 453.10,69.55" fill="#8a8a8a" stroke="#333" stroke-width="0.7"/>
<polygon points="490.70,82.40 494.80,86.50 490.70,90.60 486.60,86.50" fill="#8a8a8a" stroke="#333" stroke-width="0.7"/>
<polygon points="499.20,82.40 503.30,86.50 499.20,90.60 495.10,86.50" fill="#8a8a8a" stroke="#333" stroke-width="0.7"/>
<rect x="454.35" y="33.50" width="6.30" height="6.30" fill="#000" stroke="#222" stroke-width="0.8"/>
<rect x="473.35" y="49.45" width="6.30" height="6.30" fill="#000" stroke="#222" stroke-width="0.8"/>
<rect x="488.45" y="66.40" width="6.30" height="6.30" fill="#000" stroke="#222" stroke-width="0.8"/>
<rect x="496.05" y="66.40" width="6.30" height="6.30" fill="#000" stroke="#222" stroke-width="0.8"/>
<polygon points="499.20,15.50 503.19,22.64 495.21,22.64" fill="#000"/>
<line x1="498.70" y1="91.60" x2="498.70" y2="116.80" stroke="#111" stroke-width="1.534"/>
<text x="503.80" y="112.50" font-size="17.5" text-anchor="middle" font-weight="bold" fill="#111" stroke="#111" stroke-width="0.35" >*</text>
<line x1="510.60" y1="67.40" x2="510.60" y2="116.80" stroke="#111" stroke-width="1.534"/>
<g transform="translate(506.8 83.3) rotate(90)"><text x="0" y="0" font-size="17.5" font-weight="bold" fill="#111" stroke="#111" stroke-width="0.35" letter-spacing="0.3">**</text></g>
<line x1="377.70" y1="190.80" x2="393.80" y2="190.80" stroke="#111" stroke-width="1.534"/>
<polygon points="385.80,186.90 389.79,194.04 381.81,194.04" fill="#000"/>
<text x="402.80" y="194.70" font-size="10.9" text-anchor="start" font-weight="bold" fill="#111" stroke="#111" stroke-width="0.35" textLength="49.2" lengthAdjust="spacingAndGlyphs" >BM alone</text>
<rect x="357.40" y="202.50" width="17.30" height="9.40" fill="#d4d4d4" stroke="#222" stroke-width="0.9"/>
<line x1="377.70" y1="205.20" x2="393.80" y2="205.20" stroke="#111" stroke-width="1.534"/>
<rect x="382.65" y="202.05" width="6.30" height="6.30" fill="#d0d0d0" stroke="#222" stroke-width="0.8"/>
<text x="402.80" y="209.10" font-size="10.9" text-anchor="start" font-weight="bold" fill="#111" stroke="#111" stroke-width="0.35" textLength="58.9" lengthAdjust="spacingAndGlyphs" >Scrambled</text>
<rect x="357.40" y="214.30" width="17.30" height="9.40" fill="#6a6a6a" stroke="#222" stroke-width="0.9"/>
<line x1="377.70" y1="219.40" x2="393.80" y2="219.40" stroke="#111" stroke-width="1.534"/>
<polygon points="385.80,215.30 389.90,219.40 385.80,223.50 381.70,219.40" fill="#8a8a8a" stroke="#333" stroke-width="0.7"/>
<text x="402.80" y="223.30" font-size="10.9" text-anchor="start" font-weight="bold" fill="#111" stroke="#111" stroke-width="0.35" textLength="63.3" lengthAdjust="spacingAndGlyphs" >Anti-miR-17</text>
<rect x="357.40" y="226.60" width="17.30" height="9.40" fill="#050505" stroke="#222" stroke-width="0.9"/>
<line x1="377.70" y1="233.00" x2="393.80" y2="233.00" stroke="#111" stroke-width="1.534"/>
<rect x="382.65" y="229.85" width="6.30" height="6.30" fill="#000" stroke="#222" stroke-width="0.8"/>
<text x="402.80" y="236.90" font-size="10.9" text-anchor="start" font-weight="bold" fill="#111" stroke="#111" stroke-width="0.35" textLength="63.3" lengthAdjust="spacingAndGlyphs" >Anti-miR-19</text>
<text x="1.00" y="295.40" font-size="10.5" text-anchor="start" font-weight="bold" fill="#111" stroke="#111" stroke-width="0.35" >F</text>
<line x1="42.60" y1="300.80" x2="42.60" y2="410.40" stroke="#111" stroke-width="1.534"/>
<line x1="42.00" y1="409.80" x2="181.00" y2="409.80" stroke="#111" stroke-width="1.534"/>
<line x1="39.80" y1="409.80" x2="42.60" y2="409.80" stroke="#111" stroke-width="1.298"/>
<text x="38.40" y="413.50" font-size="10.3" text-anchor="end" font-weight="bold" fill="#111" stroke="#111" stroke-width="0.35" >0</text>
<line x1="39.80" y1="389.10" x2="42.60" y2="389.10" stroke="#111" stroke-width="1.298"/>
<text x="38.40" y="392.80" font-size="10.3" text-anchor="end" font-weight="bold" fill="#111" stroke="#111" stroke-width="0.35" >20</text>
<line x1="39.80" y1="368.40" x2="42.60" y2="368.40" stroke="#111" stroke-width="1.298"/>
<text x="38.40" y="372.10" font-size="10.3" text-anchor="end" font-weight="bold" fill="#111" stroke="#111" stroke-width="0.35" >40</text>
<line x1="39.80" y1="347.70" x2="42.60" y2="347.70" stroke="#111" stroke-width="1.298"/>
<text x="38.40" y="351.40" font-size="10.3" text-anchor="end" font-weight="bold" fill="#111" stroke="#111" stroke-width="0.35" >60</text>
<line x1="39.80" y1="327.00" x2="42.60" y2="327.00" stroke="#111" stroke-width="1.298"/>
<text x="38.40" y="330.70" font-size="10.3" text-anchor="end" font-weight="bold" fill="#111" stroke="#111" stroke-width="0.35" >80</text>
<line x1="39.80" y1="306.30" x2="42.60" y2="306.30" stroke="#111" stroke-width="1.298"/>
<text x="38.40" y="310.00" font-size="10.3" text-anchor="end" font-weight="bold" fill="#111" stroke="#111" stroke-width="0.35" >100</text>
<line x1="42.60" y1="409.80" x2="42.60" y2="412.60" stroke="#111" stroke-width="1.298"/>
<text x="42.60" y="423.00" font-size="10.3" text-anchor="middle" font-weight="bold" fill="#111" stroke="#111" stroke-width="0.35" >0</text>
<line x1="61.66" y1="409.80" x2="61.66" y2="412.60" stroke="#111" stroke-width="1.298"/>
<text x="61.66" y="423.00" font-size="10.3" text-anchor="middle" font-weight="bold" fill="#111" stroke="#111" stroke-width="0.35" >10</text>
<line x1="80.72" y1="409.80" x2="80.72" y2="412.60" stroke="#111" stroke-width="1.298"/>
<text x="80.72" y="423.00" font-size="10.3" text-anchor="middle" font-weight="bold" fill="#111" stroke="#111" stroke-width="0.35" >20</text>
<line x1="99.78" y1="409.80" x2="99.78" y2="412.60" stroke="#111" stroke-width="1.298"/>
<text x="99.78" y="423.00" font-size="10.3" text-anchor="middle" font-weight="bold" fill="#111" stroke="#111" stroke-width="0.35" >30</text>
<line x1="118.84" y1="409.80" x2="118.84" y2="412.60" stroke="#111" stroke-width="1.298"/>
<text x="118.84" y="423.00" font-size="10.3" text-anchor="middle" font-weight="bold" fill="#111" stroke="#111" stroke-width="0.35" >40</text>
<line x1="137.90" y1="409.80" x2="137.90" y2="412.60" stroke="#111" stroke-width="1.298"/>
<text x="137.90" y="423.00" font-size="10.3" text-anchor="middle" font-weight="bold" fill="#111" stroke="#111" stroke-width="0.35" >50</text>
<line x1="156.96" y1="409.80" x2="156.96" y2="412.60" stroke="#111" stroke-width="1.298"/>
<text x="156.96" y="423.00" font-size="10.3" text-anchor="middle" font-weight="bold" fill="#111" stroke="#111" stroke-width="0.35" >60</text>
<line x1="176.02" y1="409.80" x2="176.02" y2="412.60" stroke="#111" stroke-width="1.298"/>
<text x="176.02" y="423.00" font-size="10.3" text-anchor="middle" font-weight="bold" fill="#111" stroke="#111" stroke-width="0.35" >70</text>
<text x="64.20" y="437.60" font-size="12" text-anchor="start" font-weight="bold" fill="#111" stroke="#111" stroke-width="0.35" textLength="90" lengthAdjust="spacingAndGlyphs" >Days After BMT</text>
<g transform="translate(21.6 386.5) rotate(-90)"><text x="0" y="0" font-size="12" font-weight="bold" fill="#111" stroke="#111" stroke-width="0.35" textLength="64" lengthAdjust="spacingAndGlyphs">% Survival</text></g>
<line x1="42.60" y1="306.30" x2="175.20" y2="306.30" stroke="#111" stroke-width="1.534"/>
<polyline points="48.90,306.30 48.90,320.79 94.40,320.79 94.40,336.31 132.50,336.31 132.50,350.81 151.90,350.81 151.90,365.30 161.40,365.30" fill="none" stroke="#111" stroke-width="1.534" stroke-linejoin="miter"/>
<polyline points="123.40,306.30 123.40,320.79 146.00,320.79 146.00,336.31 160.00,336.31 160.00,350.81 166.70,350.81 166.70,365.30 175.20,365.30" fill="none" stroke="#111" stroke-width="1.534" stroke-linejoin="miter"/>
<polyline points="83.00,306.30 83.00,332.18 86.20,332.18 86.20,358.05 89.70,358.05 89.70,409.80" fill="none" stroke="#111" stroke-width="1.416" stroke-linejoin="miter"/>
<polyline points="86.40,306.30 86.40,332.18 89.40,332.18 89.40,358.05 92.40,358.05 92.40,409.80" fill="none" stroke="#111" stroke-width="1.416" stroke-linejoin="miter"/>
<rect x="45.75" y="317.64" width="6.30" height="6.30" fill="#d0d0d0" stroke="#222" stroke-width="0.8"/>
<rect x="91.25" y="333.17" width="6.30" height="6.30" fill="#d0d0d0" stroke="#222" stroke-width="0.8"/>
<rect x="129.35" y="347.66" width="6.30" height="6.30" fill="#d0d0d0" stroke="#222" stroke-width="0.8"/>
<rect x="148.75" y="362.15" width="6.30" height="6.30" fill="#d0d0d0" stroke="#222" stroke-width="0.8"/>
<rect x="158.25" y="362.15" width="6.30" height="6.30" fill="#d0d0d0" stroke="#222" stroke-width="0.8"/>
<rect x="120.25" y="317.64" width="6.30" height="6.30" fill="#000" stroke="#222" stroke-width="0.8"/>
<rect x="142.85" y="333.17" width="6.30" height="6.30" fill="#000" stroke="#222" stroke-width="0.8"/>
<rect x="156.85" y="347.66" width="6.30" height="6.30" fill="#000" stroke="#222" stroke-width="0.8"/>
<rect x="163.55" y="362.15" width="6.30" height="6.30" fill="#000" stroke="#222" stroke-width="0.8"/>
<rect x="172.05" y="362.15" width="6.30" height="6.30" fill="#000" stroke="#222" stroke-width="0.8"/>
<circle cx="86.50" cy="332.18" r="3.0" fill="#000" stroke="#222" stroke-width="0.7"/>
<circle cx="82.30" cy="332.18" r="3.1" fill="#d0d0d0" stroke="#222" stroke-width="0.7"/>
<circle cx="91.00" cy="358.05" r="3.0" fill="#000" stroke="#222" stroke-width="0.7"/>
<circle cx="85.90" cy="358.05" r="3.1" fill="#d0d0d0" stroke="#222" stroke-width="0.7"/>
<circle cx="92.60" cy="409.80" r="3.0" fill="#000" stroke="#222" stroke-width="0.7"/>
<circle cx="90.20" cy="409.80" r="3.1" fill="#d0d0d0" stroke="#222" stroke-width="0.7"/>
<polygon points="175.20,302.10 179.19,309.24 171.21,309.24" fill="#000"/>
<text x="181.80" y="295.40" font-size="10.5" text-anchor="start" font-weight="bold" fill="#111" stroke="#111" stroke-width="0.35" >G</text>
<line x1="226.70" y1="300.80" x2="226.70" y2="410.10" stroke="#111" stroke-width="1.534"/>
<line x1="226.10" y1="409.50" x2="366.00" y2="409.50" stroke="#111" stroke-width="1.534"/>
<line x1="223.90" y1="409.50" x2="226.70" y2="409.50" stroke="#111" stroke-width="1.298"/>
<text x="222.50" y="413.20" font-size="10.3" text-anchor="end" font-weight="bold" fill="#111" stroke="#111" stroke-width="0.35" >0</text>
<line x1="223.90" y1="388.80" x2="226.70" y2="388.80" stroke="#111" stroke-width="1.298"/>
<text x="222.50" y="392.50" font-size="10.3" text-anchor="end" font-weight="bold" fill="#111" stroke="#111" stroke-width="0.35" >20</text>
<line x1="223.90" y1="368.10" x2="226.70" y2="368.10" stroke="#111" stroke-width="1.298"/>
<text x="222.50" y="371.80" font-size="10.3" text-anchor="end" font-weight="bold" fill="#111" stroke="#111" stroke-width="0.35" >40</text>
<line x1="223.90" y1="347.40" x2="226.70" y2="347.40" stroke="#111" stroke-width="1.298"/>
<text x="222.50" y="351.10" font-size="10.3" text-anchor="end" font-weight="bold" fill="#111" stroke="#111" stroke-width="0.35" >60</text>
<line x1="223.90" y1="326.70" x2="226.70" y2="326.70" stroke="#111" stroke-width="1.298"/>
<text x="222.50" y="330.40" font-size="10.3" text-anchor="end" font-weight="bold" fill="#111" stroke="#111" stroke-width="0.35" >80</text>
<line x1="223.90" y1="306.00" x2="226.70" y2="306.00" stroke="#111" stroke-width="1.298"/>
<text x="222.50" y="309.70" font-size="10.3" text-anchor="end" font-weight="bold" fill="#111" stroke="#111" stroke-width="0.35" >100</text>
<line x1="226.70" y1="409.50" x2="226.70" y2="412.30" stroke="#111" stroke-width="1.298"/>
<text x="226.70" y="422.60" font-size="10.3" text-anchor="middle" font-weight="bold" fill="#111" stroke="#111" stroke-width="0.35" >0</text>
<line x1="245.84" y1="409.50" x2="245.84" y2="412.30" stroke="#111" stroke-width="1.298"/>
<text x="245.84" y="422.60" font-size="10.3" text-anchor="middle" font-weight="bold" fill="#111" stroke="#111" stroke-width="0.35" >10</text>
<line x1="264.98" y1="409.50" x2="264.98" y2="412.30" stroke="#111" stroke-width="1.298"/>
<text x="264.98" y="422.60" font-size="10.3" text-anchor="middle" font-weight="bold" fill="#111" stroke="#111" stroke-width="0.35" >20</text>
<line x1="284.12" y1="409.50" x2="284.12" y2="412.30" stroke="#111" stroke-width="1.298"/>
<text x="284.12" y="422.60" font-size="10.3" text-anchor="middle" font-weight="bold" fill="#111" stroke="#111" stroke-width="0.35" >30</text>
<line x1="303.26" y1="409.50" x2="303.26" y2="412.30" stroke="#111" stroke-width="1.298"/>
<text x="303.26" y="422.60" font-size="10.3" text-anchor="middle" font-weight="bold" fill="#111" stroke="#111" stroke-width="0.35" >40</text>
<line x1="322.40" y1="409.50" x2="322.40" y2="412.30" stroke="#111" stroke-width="1.298"/>
<text x="322.40" y="422.60" font-size="10.3" text-anchor="middle" font-weight="bold" fill="#111" stroke="#111" stroke-width="0.35" >50</text>
<line x1="341.54" y1="409.50" x2="341.54" y2="412.30" stroke="#111" stroke-width="1.298"/>
<text x="341.54" y="422.60" font-size="10.3" text-anchor="middle" font-weight="bold" fill="#111" stroke="#111" stroke-width="0.35" >60</text>
<line x1="360.68" y1="409.50" x2="360.68" y2="412.30" stroke="#111" stroke-width="1.298"/>
<text x="360.68" y="422.60" font-size="10.3" text-anchor="middle" font-weight="bold" fill="#111" stroke="#111" stroke-width="0.35" >70</text>
<text x="249.00" y="437.70" font-size="12" text-anchor="start" font-weight="bold" fill="#111" stroke="#111" stroke-width="0.35" textLength="90" lengthAdjust="spacingAndGlyphs" >Days After BMT</text>
<g transform="translate(200.6 407) rotate(-90)"><text x="0" y="0" font-size="12" font-weight="bold" fill="#111" stroke="#111" stroke-width="0.35" textLength="105" lengthAdjust="spacingAndGlyphs">% Tumor Mortality</text></g>
<polyline points="266.40,409.50 266.40,383.62 270.70,383.62 270.70,357.75 274.00,357.75 274.00,306.00" fill="none" stroke="#111" stroke-width="1.416" stroke-linejoin="miter"/>
<polyline points="269.10,409.50 269.10,383.62 273.50,383.62 273.50,357.75 276.50,357.75 276.50,306.00" fill="none" stroke="#111" stroke-width="1.416" stroke-linejoin="miter"/>
<circle cx="269.00" cy="383.62" r="2.9" fill="#000" stroke="#222" stroke-width="0.7"/>
<circle cx="266.40" cy="383.62" r="2.9" fill="#d0d0d0" stroke="#222" stroke-width="0.7"/>
<circle cx="273.50" cy="357.75" r="2.9" fill="#000" stroke="#222" stroke-width="0.7"/>
<circle cx="270.70" cy="357.75" r="2.9" fill="#d0d0d0" stroke="#222" stroke-width="0.7"/>
<circle cx="276.50" cy="306.00" r="2.9" fill="#000" stroke="#222" stroke-width="0.7"/>
<circle cx="274.00" cy="306.00" r="2.9" fill="#d0d0d0" stroke="#222" stroke-width="0.7"/>
<line x1="335.70" y1="409.50" x2="335.70" y2="394.20" stroke="#111" stroke-width="1.416"/>
<line x1="343.70" y1="409.50" x2="343.70" y2="394.20" stroke="#111" stroke-width="1.416"/>
<line x1="343.70" y1="394.20" x2="360.50" y2="394.20" stroke="#111" stroke-width="1.416"/>
<rect x="332.55" y="391.05" width="6.30" height="6.30" fill="#d0d0d0" stroke="#222" stroke-width="0.8"/>
<rect x="340.55" y="391.05" width="6.30" height="6.30" fill="#000" stroke="#222" stroke-width="0.8"/>
<rect x="357.35" y="391.05" width="6.30" height="6.30" fill="#000" stroke="#222" stroke-width="0.8"/>
<rect x="352.15" y="391.05" width="6.30" height="6.30" fill="#d0d0d0" stroke="#222" stroke-width="0.8"/>
<polygon points="359.50,403.30 363.49,410.44 355.51,410.44" fill="#000"/>
<line x1="345.80" y1="311.90" x2="362.10" y2="311.90" stroke="#111" stroke-width="1.534"/>
<polygon points="353.80,308.00 357.79,315.14 349.81,315.14" fill="#000"/>
<text x="370.80" y="315.80" font-size="11.3" text-anchor="start" font-weight="bold" fill="#111" stroke="#111" stroke-width="0.35" textLength="49.3" lengthAdjust="spacingAndGlyphs" xml:space="preserve">BM alone</text>
<line x1="345.80" y1="326.00" x2="362.10" y2="326.00" stroke="#111" stroke-width="1.534"/>
<circle cx="353.80" cy="326.00" r="3.0" fill="#d0d0d0" stroke="#222" stroke-width="0.7"/>
<text x="370.80" y="329.90" font-size="11.3" text-anchor="start" font-weight="bold" fill="#111" stroke="#111" stroke-width="0.35" textLength="115.0" lengthAdjust="spacingAndGlyphs" xml:space="preserve">BM+A20 (scrambled)</text>
<line x1="345.80" y1="340.40" x2="362.10" y2="340.40" stroke="#111" stroke-width="1.534"/>
<circle cx="353.80" cy="340.40" r="3.0" fill="#000" stroke="#222" stroke-width="0.7"/>
<text x="370.80" y="344.30" font-size="11.3" text-anchor="start" font-weight="bold" fill="#111" stroke="#111" stroke-width="0.35" textLength="120.0" lengthAdjust="spacingAndGlyphs" xml:space="preserve">BM+A20 (anti-miR-19)</text>
<line x1="345.80" y1="354.20" x2="362.10" y2="354.20" stroke="#111" stroke-width="1.534"/>
<rect x="350.65" y="351.05" width="6.30" height="6.30" fill="#d0d0d0" stroke="#222" stroke-width="0.8"/>
<text x="370.80" y="358.10" font-size="11.3" text-anchor="start" font-weight="bold" fill="#111" stroke="#111" stroke-width="0.35" textLength="131.5" lengthAdjust="spacingAndGlyphs" xml:space="preserve">BM+A20+T  (scrambled)</text>
<line x1="345.80" y1="368.30" x2="362.10" y2="368.30" stroke="#111" stroke-width="1.534"/>
<rect x="350.65" y="365.15" width="6.30" height="6.30" fill="#000" stroke="#222" stroke-width="0.8"/>
<text x="370.80" y="372.20" font-size="11.3" text-anchor="start" font-weight="bold" fill="#111" stroke="#111" stroke-width="0.35" textLength="136.1" lengthAdjust="spacingAndGlyphs" xml:space="preserve">BM+A20+T  (anti-miR-19)</text>
</svg></body></html>
